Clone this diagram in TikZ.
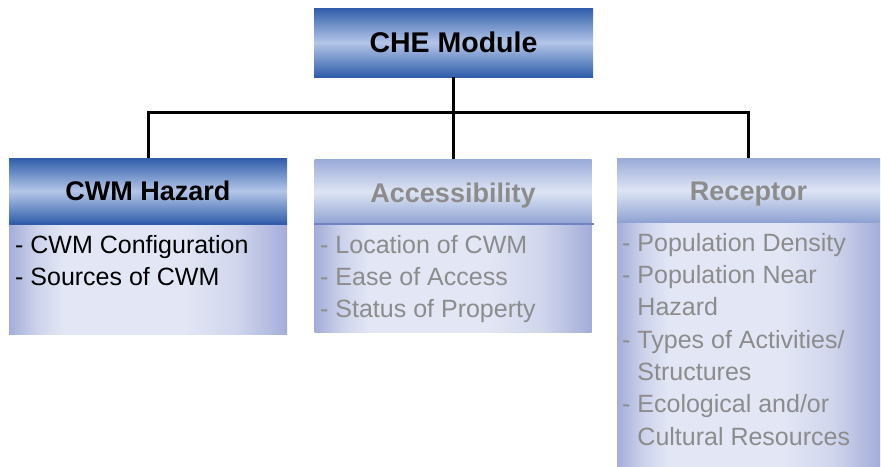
\documentclass[tikz,border=0pt]{standalone}
\usepackage{fontspec}
\setmainfont{Liberation Sans}
\definecolor{hdark}{HTML}{2F5DAA}
\definecolor{hlight}{HTML}{B4C6E8}
\definecolor{fdark}{HTML}{9AAAD8}
\definecolor{flight}{HTML}{DDE4F4}
\definecolor{bedge}{HTML}{A4ADD9}
\definecolor{bmid}{HTML}{E3E7F5}
\definecolor{graytxt}{HTML}{8C8C8C}
\definecolor{edgeline}{HTML}{6F84C2}
\pgfdeclarehorizontalshading{bodyshade}{100bp}{color(0bp)=(bedge); color(25bp)=(bedge); color(30bp)=(bmid!65!bedge); color(35bp)=(bmid); color(56bp)=(bmid); color(66bp)=(bmid!70!bedge); color(75bp)=(bedge); color(100bp)=(bedge)}
\tikzset{
  hdrbox/.style={rectangle, inner sep=0pt, top color=hdark, bottom color=hdark, middle color=hlight,
    font=\fontsize{27}{30}\selectfont\bfseries},
  fadebox/.style={rectangle, inner sep=0pt, top color=fdark, bottom color=fdark!90!hdark, middle color=flight},
  fadetxt/.style={inner sep=0pt, font=\fontsize{27}{30}\selectfont\bfseries, text=graytxt},
  bodybox/.style={rectangle, inner sep=0pt, shading=bodyshade},
  bodytxt/.style={anchor=north west, inner sep=0pt, align=left, font=\fontsize{25}{32.3}\selectfont},
  link/.style={line width=3pt, black}
}
\begin{document}
\begin{tikzpicture}[x=1pt,y=-1pt]
\useasboundingbox (0,0) rectangle (881,466);
% top
\node[hdrbox, minimum width=279pt, minimum height=69pt, font=\fontsize{28.5}{30}\selectfont\bfseries] (top) at (453.5,42.5) {CHE Module};
% CWM Hazard
\node[bodybox, minimum width=278pt, minimum height=110pt] (hazb) at (148,279) {};
\node[hdrbox, minimum width=278pt, minimum height=66pt] (haz) at (148,191) {CWM Hazard};
\draw[hdark, line width=1.5pt] (haz.south west) -- (haz.south east);
\node[bodytxt] (hazt) at (15,235) {- CWM Configuration\\- Sources of CWM};
% Accessibility
\node[bodybox, minimum width=277pt, minimum height=108pt] (accb) at (453,278) {};
\node[fadebox, minimum width=277pt, minimum height=65pt] (acc) at (453,191.5) {};
\node[fadetxt] (acclbl) at ([yshift=-4pt]acc.center) {Accessibility};
\draw[edgeline, line width=2.5pt] (acc.south west) -- ([xshift=2pt]acc.south east);
\node[bodytxt, text=graytxt] (acct) at (320,235) {- Location of CWM\\- Ease of Access\\- Status of Property};
% Receptor
\node[bodybox, minimum width=263pt, minimum height=244pt] (recb) at (748.5,344) {};
\node[fadebox, minimum width=263pt, minimum height=64pt] (rec) at (748.5,190) {};
\node[fadetxt] (reclbl) at ([yshift=-4pt]rec.center) {Receptor};
\node[bodytxt, text=graytxt] (rect) at (622,233) {- Population Density\\- Population Near\\\phantom{- }Hazard\\- Types of Activities/\\\phantom{- }Structures\\- Ecological and/or\\\phantom{- }Cultural Resources};
% connectors
\coordinate (j) at (453,112);
\draw[link] (top.south -| j) -- (j);
\draw[link] (haz.north) |- (j) -| (rec.north);
\draw[link] (j) -- (acc.north);
\end{tikzpicture}
\end{document}
